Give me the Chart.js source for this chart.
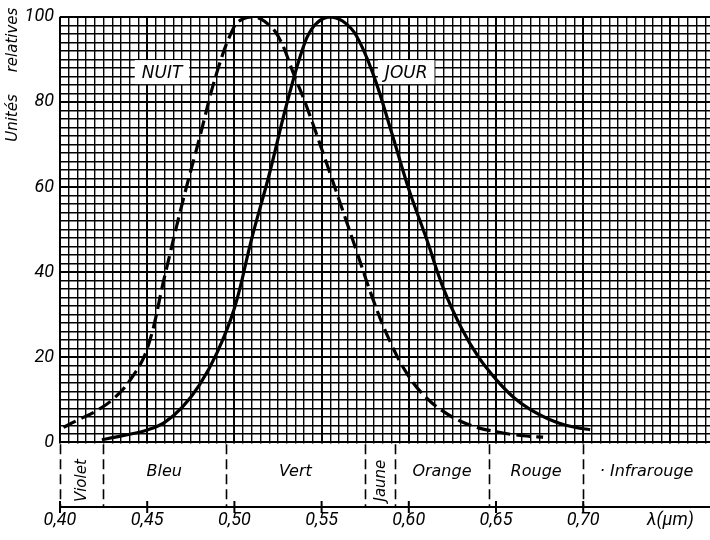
<!DOCTYPE html>
<html>
<head>
<meta charset="utf-8">
<script src="https://cdn.jsdelivr.net/npm/chart.js@4.4.1/dist/chart.umd.min.js"></script>
<style>
  html, body { margin: 0; padding: 0; background: #fff; }
  canvas { display: block; }
</style>
</head>
<body>
<canvas id="chart" width="710" height="540"></canvas>
<script>
// vision de nuit (scotopique), courbe en tirets
const NUIT_LAMBDA = [0.402, 0.41, 0.42, 0.43, 0.44, 0.45, 0.46, 0.47, 0.48, 0.49, 0.50, 0.505, 0.511, 0.517, 0.525,
                     0.535, 0.54, 0.55, 0.56, 0.57, 0.58, 0.59, 0.60, 0.61, 0.62, 0.63, 0.64, 0.65, 0.66, 0.67, 0.677];
const NUIT_VALUES = [3.5, 5.2, 7.2, 10, 14.5, 22, 39, 56, 71.5, 87, 97.8, 99.5, 100, 99, 95.5,
                     85.5, 80.5, 69, 57, 45, 33, 23, 15.5, 10.5, 7.2, 4.9, 3.4, 2.5, 1.8, 1.4, 1.2];

// vision de jour (photopique), courbe pleine
const JOUR_LAMBDA = [0.424, 0.43, 0.44, 0.45, 0.46, 0.47, 0.48, 0.49, 0.50, 0.51, 0.52, 0.53, 0.54, 0.546, 0.554,
                     0.562, 0.57, 0.58, 0.59, 0.60, 0.61, 0.62, 0.63, 0.64, 0.65, 0.66, 0.67, 0.68, 0.69, 0.70, 0.704];
const JOUR_VALUES = [0.6, 1.1, 1.9, 2.9, 4.7, 8.2, 13.5, 21, 31.5, 48, 63, 79.5, 93.5, 98, 100,
                     99, 95.5, 86, 73, 59.5, 48, 36, 27, 20, 14.8, 10.6, 7.6, 5.5, 4, 3.2, 3];

// bandes de couleur sous le graphique
const BAND_EDGES = [0.40, 0.4245, 0.495, 0.575, 0.592, 0.646, 0.70];
const BAND_NAMES = ['Violet', 'Bleu', 'Vert', 'Jaune', 'Orange', 'Rouge', '· Infrarouge'];
const BAND_ROTATED = [true, false, false, true, false, false, false];

const X_TICK_VALUES = [0.40, 0.45, 0.50, 0.55, 0.60, 0.65, 0.70, 0.75];
const X_TICK_LABELS = ['0,40', '0,45', '0,50', '0,55', '0,60', '0,65', '0,70', 'λ(µm)'];
const Y_TICK_VALUES = [0, 20, 40, 60, 80, 100];
const Y_TICK_LABELS = ['0', '20', '40', '60', '80', '100'];

const X_MIN = 0.40, X_MAX = 0.7727;
const Y_MIN = -15.2, Y_MAX = 100;
const FONT = '"DejaVu Sans", sans-serif';
const NUM_FONT = 'Roboto, "DejaVu Sans", sans-serif';

function toPoints(xs, ys) {
    return xs.map((x, i) => ({ x, y: ys[i] }));
}

// quadrillage millimétré : un trait tous les 0,005 µm et toutes les 2 unités
function gridTicks(from, to, step) {
    const out = [];
    for (let i = 0; from + i * step <= to + 1e-9; i++) {
        out.push({ value: Math.round((from + i * step) * 10000) / 10000 });
    }
    return out;
}

function labelFor(values, labels, v) {
    const i = values.findIndex(t => Math.abs(t - v) < 1e-6);
    return i < 0 ? '' : labels[i];
}

const bandPlugin = {
    id: 'bands',
    beforeDatasetsDraw(chart) {
        const { ctx, chartArea, scales: { x, y } } = chart;
        const y0 = y.getPixelForValue(0);
        const bottom = chartArea.bottom;
        ctx.save();

        // pas de quadrillage dans la bande des couleurs
        ctx.fillStyle = '#fff';
        ctx.fillRect(chartArea.left - 3, y0 + 1.2, chartArea.right - chartArea.left + 6, bottom - y0 - 2.2);

        ctx.strokeStyle = '#000';
        ctx.lineWidth = 1.6;
        ctx.setLineDash([10, 5]);
        BAND_EDGES.forEach(l => {
            const px = Math.round(x.getPixelForValue(l)) + 0.5;
            ctx.beginPath();
            ctx.moveTo(px, y0 + 2);
            ctx.lineTo(px, bottom);
            ctx.stroke();
        });
        ctx.setLineDash([]);

        // graduations qui traversent l'axe
        ctx.lineWidth = 2;
        X_TICK_VALUES.slice(0, -1).forEach(l => {
            const px = x.getPixelForValue(l);
            ctx.beginPath();
            ctx.moveTo(px, bottom - 6);
            ctx.lineTo(px, bottom + 6);
            ctx.stroke();
        });

        ctx.fillStyle = '#000';
        ctx.font = `italic 16px ${FONT}`;
        ctx.textAlign = 'center';
        BAND_NAMES.forEach((name, i) => {
            const a = BAND_EDGES[i];
            const b = i + 1 < BAND_EDGES.length ? BAND_EDGES[i + 1] : X_MAX;
            const cx = x.getPixelForValue((a + b) / 2);
            if (BAND_ROTATED[i]) {
                ctx.save();
                ctx.translate(cx + 5, y.getPixelForValue(-9));
                ctx.rotate(-Math.PI / 2);
                ctx.textBaseline = 'alphabetic';
                ctx.font = `italic 15px ${FONT}`;
                ctx.fillText(name, 0, 0);
                ctx.restore();
            } else {
                ctx.textBaseline = 'alphabetic';
                ctx.fillText(name, cx, y.getPixelForValue(-7.8));
            }
        });

        // étiquettes des courbes sur fond blanc
        ctx.font = `italic 17px ${FONT}`;
        [['NUIT', 0.4585], ['JOUR', 0.5985]].forEach(([txt, l]) => {
            const cx = x.getPixelForValue(l);
            const cy = y.getPixelForValue(87);
            const w = ctx.measureText(txt).width + 14;
            ctx.fillStyle = '#fff';
            ctx.fillRect(cx - w / 2, cy - 12, w, 24);
            ctx.fillStyle = '#000';
            ctx.textBaseline = 'middle';
            ctx.fillText(txt, cx, cy + 1);
        });

        ctx.restore();
    },
    afterDraw(chart) {
        const { ctx } = chart;
        ctx.save();
        ctx.fillStyle = '#000';
        ctx.font = `italic 15px ${FONT}`;
        ctx.textAlign = 'center';
        ctx.textBaseline = 'middle';
        [['Unités', 118], ['relatives', 40]].forEach(([txt, cy]) => {
            ctx.save();
            ctx.translate(13, cy);
            ctx.rotate(-Math.PI / 2);
            ctx.fillText(txt, 0, 0);
            ctx.restore();
        });
        ctx.restore();
    }
};

new Chart(document.getElementById('chart'), {
    type: 'line',
    data: {
        datasets: [
            {
                label: 'NUIT',
                data: toPoints(NUIT_LAMBDA, NUIT_VALUES),
                borderColor: '#000',
                borderWidth: 3.2,
                borderDash: [14, 6],
                pointRadius: 0,
                tension: 0.4
            },
            {
                label: 'JOUR',
                data: toPoints(JOUR_LAMBDA, JOUR_VALUES),
                borderColor: '#000',
                borderWidth: 3.2,
                pointRadius: 0,
                tension: 0.4
            }
        ]
    },
    options: {
        responsive: false,
        animation: false,
        devicePixelRatio: 1,
        layout: { padding: 0 },
        plugins: { legend: { display: false }, tooltip: { enabled: false } },
        scales: {
            x: {
                type: 'linear',
                min: X_MIN,
                max: X_MAX,
                afterBuildTicks: s => { s.ticks = gridTicks(0.40, 0.77, 0.005); },
                afterFit: s => { s.height = 33; },
                ticks: {
                    autoSkip: false,
                    maxRotation: 0,
                    padding: 3,
                    color: '#000',
                    font: { family: NUM_FONT, size: 18, style: 'italic' },
                    callback: v => labelFor(X_TICK_VALUES, X_TICK_LABELS, v)
                },
                grid: {
                    color: '#000',
                    drawTicks: false,
                    lineWidth: c => (c.tick && Math.round(c.tick.value * 1000) % 50 === 0) ? 2 : 1.4
                },
                border: { display: true, color: '#000', width: 2 }
            },
            y: {
                type: 'linear',
                min: Y_MIN,
                max: Y_MAX,
                afterBuildTicks: s => { s.ticks = gridTicks(0, 100, 2); },
                afterFit: s => { s.width = 60; },
                ticks: {
                    autoSkip: false,
                    padding: 6,
                    color: '#000',
                    font: { family: NUM_FONT, size: 18, style: 'italic' },
                    callback: v => labelFor(Y_TICK_VALUES, Y_TICK_LABELS, v)
                },
                grid: {
                    color: '#000',
                    drawTicks: false,
                    lineWidth: c => (c.tick && c.tick.value % 20 === 0) ? 2 : 1.4
                },
                border: { display: false }
            }
        }
    },
    plugins: [bandPlugin]
});
</script>
</body>
</html>
